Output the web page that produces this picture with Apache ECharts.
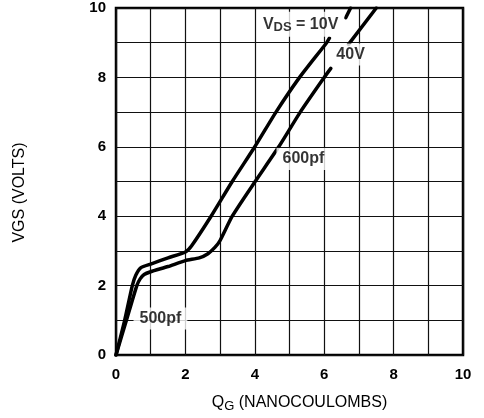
<!DOCTYPE html>
<html><head><meta charset="utf-8">
<script src="https://cdn.jsdelivr.net/npm/echarts@6/dist/echarts.min.js"></script>
<style>html,body{margin:0;padding:0;background:#fff}#c{width:484px;height:418px}</style>
</head><body><div id="c"></div>
<script>
// Gate charge curves (QG in nC, VGS in V)
const q10a = [0, 0.25, 0.47, 0.57, 0.72, 1.0, 1.5, 2.0, 2.18, 2.74, 3.35, 4.0, 4.61, 5.29, 6.07, 6.15];
const v10a = [0, 1.0, 2.0, 2.3, 2.52, 2.62, 2.8, 2.97, 3.15, 4.0, 5.0, 6.0, 7.0, 8.0, 9.0, 9.13];
const q10b = [6.62, 6.76];
const v10b = [9.72, 10];
const q40a = [0, 0.3, 0.6, 0.7, 0.81, 1.0, 1.5, 2.0, 2.4, 2.65, 2.85, 3.0, 3.35, 4.01, 4.69, 5.31, 6.0, 6.19];
const v40a = [0, 1.0, 2.0, 2.2, 2.32, 2.4, 2.55, 2.72, 2.8, 2.92, 3.1, 3.3, 4.0, 5.0, 6.0, 7.0, 8.0, 8.26];
const q40b = [6.7, 7.5];
const v40b = [8.95, 10];
const xTicks = [0, 2, 4, 6, 8, 10];
const yTicks = [0, 2, 4, 6, 8, 10];
const annText = ['VDS = 10V', '40V', '600pf', '500pf'];
const annX = [5.32, 6.76, 5.4, 1.28];
const annY = [9.53, 8.66, 5.65, 1.05];

const zip = (a, b) => a.map((v, i) => [v, b[i]]);
const lineStyle = {color: '#000', width: 3.5, join: 'round', cap: 'round'};
const mkLine = (q, v) => ({type: 'line', data: zip(q, v), showSymbol: false, smooth: 0.2, lineStyle, z: 5, silent: true});

const rich = {
  n: {fontFamily: 'Liberation Sans', fontWeight: 'bold', fontSize: 16, color: '#000'},
  s: {fontFamily: 'Liberation Sans', fontWeight: 'bold', fontSize: 13, color: '#000', padding: [6, 0, 0, 0]},
  an: {fontFamily: 'Liberation Sans', fontSize: 16, color: '#000'},
  as: {fontFamily: 'Liberation Sans', fontSize: 13, color: '#000', padding: [7, 0, 0, 0]}
};
const annLabel = t => t === 'VDS = 10V' ? '{n|V}{s|DS}{n| = 10V}' : '{n|' + t + '}';

const chart = echarts.init(document.getElementById('c'));
chart.setOption({
  animation: false,
  backgroundColor: '#fff',
  grid: {left: 116, right: 21, top: 8, bottom: 60, show: true, borderColor: '#000', borderWidth: 2.5, backgroundColor: 'transparent'},
  xAxis: {
    type: 'value', min: 0, max: 10, interval: 1,
    axisLine: {show: false}, axisTick: {show: false},
    splitLine: {show: true, lineStyle: {color: '#111', width: 1.2}},
    axisLabel: {margin: 12, color: '#000', fontFamily: 'Liberation Sans', fontWeight: 'bold', fontSize: 15,
      formatter: v => xTicks.includes(v) ? String(v) : ''},
    name: '{an|Q}{as|G}{an| (NANOCOULOMBS)}', nameLocation: 'middle', nameGap: 38,
    nameTextStyle: {rich, padding: [0, 0, 0, 20]}
  },
  yAxis: {
    type: 'value', min: 0, max: 10, interval: 1,
    axisLine: {show: false}, axisTick: {show: false},
    splitLine: {show: true, lineStyle: {color: '#111', width: 1.2}},
    axisLabel: {margin: 10, color: '#000', fontFamily: 'Liberation Sans', fontWeight: 'bold', fontSize: 15,
      formatter: v => yTicks.includes(v) ? String(v) : ''},
    name: 'VGS (VOLTS)', nameLocation: 'middle', nameGap: 88, nameRotate: 90,
    nameTextStyle: {fontFamily: 'Liberation Sans', fontSize: 16, color: '#000', padding: [0, 22, 0, 0]}
  },
  series: [
    mkLine(q10a, v10a), mkLine(q10b, v10b), mkLine(q40a, v40a), mkLine(q40b, v40b),
    {
      type: 'scatter', symbolSize: 0, z: 10, silent: true,
      data: annText.map((t, i) => ({value: [annX[i], annY[i]], name: t})),
      label: {show: true, position: 'inside', formatter: p => annLabel(p.name), rich,
        backgroundColor: '#fff', padding: [3, 6, 3, 6]}
    }
  ]
});
</script></body></html>
